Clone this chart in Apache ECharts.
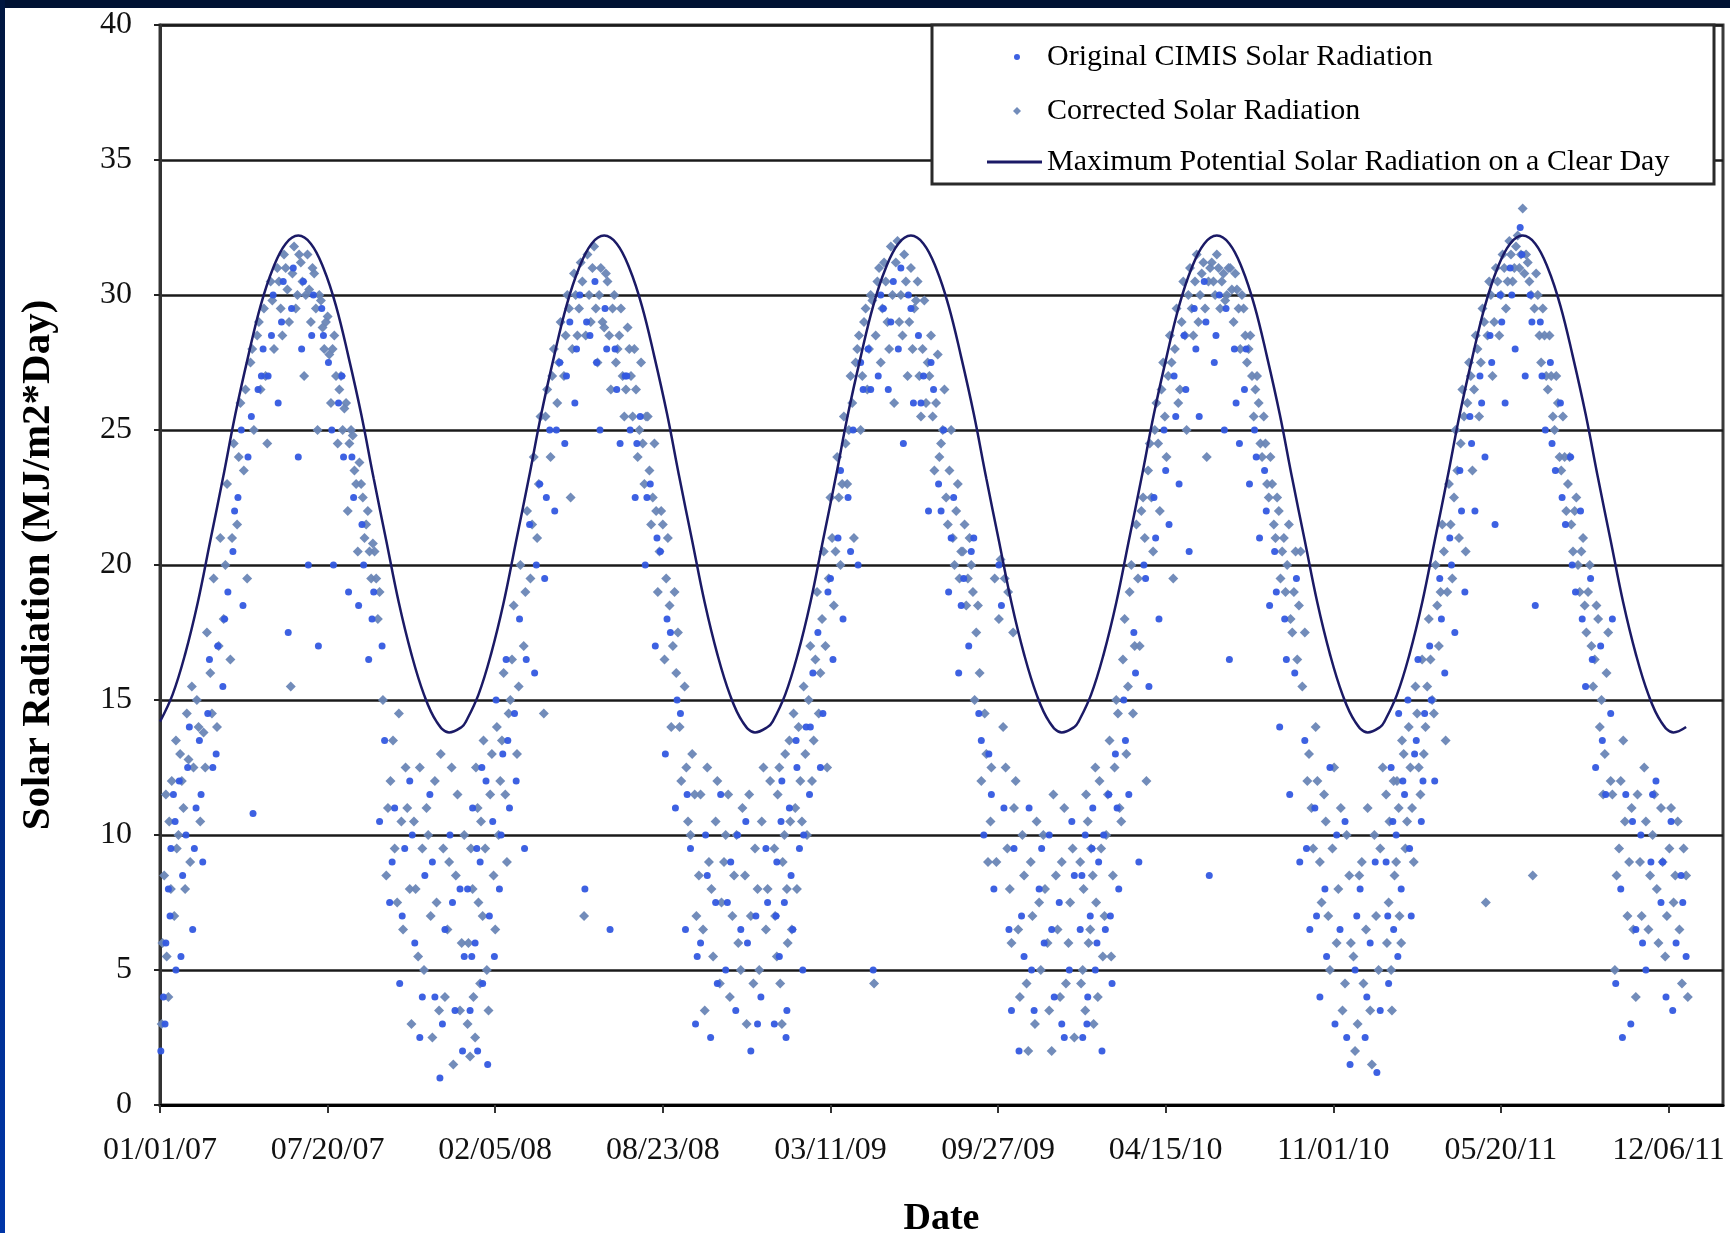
<!DOCTYPE html>
<html>
<head>
<meta charset="utf-8">
<script src="https://cdn.jsdelivr.net/npm/echarts@6/dist/echarts.min.js"></script>
<style>
  html, body { margin: 0; padding: 0; background: #ffffff; }
  #chart { position: absolute; left: 0; top: 0; width: 1730px; height: 1233px; background: #ffffff; }
  #bandTop { position: absolute; left: 0; top: 0; width: 1730px; height: 8px; background: #001233; z-index: 5; }
  #bandLeft { position: absolute; left: 0; top: 0; width: 5px; height: 1233px; background: linear-gradient(#00163f, #0036a8); z-index: 5; }
</style>
</head>
<body>
<div id="chart"></div>
<div id="bandTop"></div>
<div id="bandLeft"></div>
<script>
// x = days since 01/01/07
const xTickValues = [0, 200, 400, 600, 800, 1000, 1200, 1400, 1600, 1800];
const xTickLabels = ['01/01/07', '07/20/07', '02/05/08', '08/23/08', '03/11/09', '09/27/09', '04/15/10', '11/01/10', '05/20/11', '12/06/11'];
const yTickValues = [0, 5, 10, 15, 20, 25, 30, 35, 40];

const seriesNames = ['Original CIMIS Solar Radiation', 'Corrected Solar Radiation', 'Maximum Potential Solar Radiation on a Clear Day'];

const maxPotential = [
  [0,14.2],[15,15.2],[30,16.7],[45,18.6],[60,20.9],[75,23.2],[90,25.6],[105,27.7],[120,29.6],[135,31.0],[150,31.9],[165,32.2],[180,31.9],[195,31.0],[210,29.6],[225,27.7],[240,25.6],[255,23.2],[270,20.9],[285,18.6],[300,16.7],[315,15.2],[330,14.2],[345,13.8],[360,14.0],
  [365,14.2],[380,15.2],[395,16.7],[410,18.6],[425,20.9],[440,23.2],[455,25.6],[470,27.7],[485,29.6],[500,31.0],[515,31.9],[530,32.2],[545,31.9],[560,31.0],[575,29.6],[590,27.7],[605,25.6],[620,23.2],[635,20.9],[650,18.6],[665,16.7],[680,15.2],[695,14.2],[710,13.8],[725,14.0],
  [731,14.2],[746,15.2],[761,16.7],[776,18.6],[791,20.9],[806,23.2],[821,25.6],[836,27.7],[851,29.6],[866,31.0],[881,31.9],[896,32.2],[911,31.9],[926,31.0],[941,29.6],[956,27.7],[971,25.6],[986,23.2],[1001,20.9],[1016,18.6],[1031,16.7],[1046,15.2],[1061,14.2],[1076,13.8],[1091,14.0],
  [1096,14.2],[1111,15.2],[1126,16.7],[1141,18.6],[1156,20.9],[1171,23.2],[1186,25.6],[1201,27.7],[1216,29.6],[1231,31.0],[1246,31.9],[1261,32.2],[1276,31.9],[1291,31.0],[1306,29.6],[1321,27.7],[1336,25.6],[1351,23.2],[1366,20.9],[1381,18.6],[1396,16.7],[1411,15.2],[1426,14.2],[1441,13.8],[1456,14.0],
  [1461,14.2],[1476,15.2],[1491,16.7],[1506,18.6],[1521,20.9],[1536,23.2],[1551,25.6],[1566,27.7],[1581,29.6],[1596,31.0],[1611,31.9],[1626,32.2],[1641,31.9],[1656,31.0],[1671,29.6],[1686,27.7],[1701,25.6],[1716,23.2],[1731,20.9],[1746,18.6],[1761,16.7],[1776,15.2],[1791,14.2],[1806,13.8],[1821,14.0]
];

const correctedSolar = [
  [2,3.0],[5,8.5],[8,5.5],[11,10.5],[14,12.0],[17,7.0],[20,9.5],[24,13.0],[28,11.0],[32,14.5],[36,9.0],[40,12.5],[44,15.0],[48,10.5],[52,13.8],[56,17.5],[60,16.0],[64,19.5],[68,14.0],[72,21.0],[76,18.0],[80,23.0],[84,16.5],[88,24.5],[92,21.5],[96,26.0],[100,23.5],[104,19.5],[108,27.5],[112,25.0],[116,28.5],[120,26.5],[124,29.5],[128,24.5],[132,30.5],[136,28.0],[140,31.0],[144,29.5],[148,31.5],[152,30.2],[156,15.5],[160,31.8],[164,30.0],[168,31.2],[172,27.0],[176,31.5],[180,29.0],[184,30.8],[188,25.0],[192,29.8],[196,28.0],[200,29.2],[204,26.0],[208,28.5],[212,24.5],[216,27.0],[220,25.8],[224,22.0],[228,25.0],[232,23.5],[236,20.5],[240,23.0],[244,21.0],[248,22.0],[252,19.5],[256,20.5],[260,18.0],[266,15.0],[270,8.5],[275,12.0],[280,9.5],[285,14.5],[290,6.5],[295,11.0],[300,3.0],[305,8.0],[310,12.5],[315,5.0],[320,10.0],[325,2.5],[330,7.5],[335,13.0],[340,4.0],[345,9.0],[350,1.5],[355,11.5],[360,6.0],
  [3,6.0],[7,11.5],[10,4.0],[13,8.0],[19,13.5],[22,10.0],[26,12.0],[30,8.0],[34,12.8],[38,15.5],[46,14.0],[54,12.5],[62,14.5],[70,17.0],[78,20.0],[86,21.0],[94,24.0],[102,26.5],[110,28.0],[118,29.0],[126,27.0],[134,29.8],[142,30.5],[146,28.5],[150,31.0],[154,29.0],[158,30.8],[162,29.5],[166,31.5],[170,30.5],[174,30.0],[178,30.2],[182,31.0],[186,29.5],[190,30.0],[194,28.8],[198,29.0],[202,27.8],[206,28.0],[210,27.0],[214,26.5],[218,25.0],[222,26.0],[226,24.5],[230,24.8],[234,23.0],[238,23.8],[242,22.5],[246,21.5],[250,20.5],[254,20.8],[258,19.5],[262,19.0],[272,11.0],[278,13.5],[283,7.5],[288,10.5],[293,12.5],[298,8.0],[303,10.5],[308,5.5],[313,9.5],[318,11.0],[323,7.0],[328,12.0],[333,3.5],[338,9.5],[343,6.5],[348,12.5],[353,8.5],[358,3.5],[363,10.0],
  [368,6.0],[371,9.5],[374,4.0],[377,12.5],[380,7.5],[383,10.5],[386,13.5],[390,5.0],[394,11.5],[398,8.5],[402,14.0],[406,12.0],[410,16.0],[414,9.0],[418,15.0],[422,18.5],[426,13.0],[430,20.0],[434,17.0],[438,22.0],[442,19.5],[446,24.0],[450,21.0],[454,25.5],[458,14.5],[462,26.5],[466,24.0],[470,28.0],[474,26.0],[478,29.0],[482,27.0],[486,30.0],[490,22.5],[494,30.8],[498,28.5],[502,31.2],[506,7.0],[510,31.5],[514,29.0],[518,31.8],[522,27.5],[526,31.0],[530,28.8],[534,30.5],[538,26.5],[542,30.0],[546,28.0],[550,29.5],[554,25.5],[558,28.8],[562,27.0],[566,28.0],[570,24.0],[574,27.5],[578,23.0],[582,25.5],[586,21.5],[590,24.5],[594,19.0],[598,22.0],[602,16.5],[606,21.0],[610,14.0],[614,19.0],[618,17.5],[622,12.0],[626,15.5],[630,10.5],[635,13.0],[640,7.0],[645,11.5],[650,3.5],[655,9.0],[660,5.5],[665,12.0],[670,7.5],[675,10.0],[680,4.0],[685,8.5],[690,6.0],[695,11.0],[700,3.0],[705,7.0],[710,9.5],[715,5.0],[720,12.5],[725,8.0],
  [367,3.0],[370,1.8],[373,8.0],[376,2.5],[379,11.0],[382,4.5],[385,7.0],[388,9.5],[392,3.5],[396,13.0],[400,6.5],[404,10.0],[408,13.5],[412,11.5],[416,14.5],[420,16.5],[428,15.5],[436,19.0],[444,21.5],[452,23.0],[460,25.5],[468,27.0],[476,27.5],[484,28.5],[488,29.5],[492,28.0],[496,30.0],[500,29.5],[504,30.5],[508,28.5],[512,30.0],[516,31.0],[520,29.5],[524,30.0],[528,29.0],[532,30.8],[536,28.5],[540,29.5],[544,27.5],[548,28.5],[552,27.0],[556,26.5],[560,28.0],[564,25.5],[568,26.5],[572,25.0],[576,24.5],[580,25.5],[584,23.5],[588,22.5],[592,22.0],[596,20.5],[600,21.5],[604,19.5],[608,18.5],[612,17.0],[616,16.0],[620,14.0],[628,12.5],[633,10.0],[638,11.5],[643,8.5],[648,6.5],[653,12.5],[658,8.0],[663,10.5],[668,4.5],[673,9.0],[678,11.5],[683,7.0],[688,10.0],[693,5.0],[698,8.5],[703,11.5],[708,4.5],[713,8.0],[718,10.5],[723,6.5],[728,12.0],
  [734,7.0],[737,11.5],[740,4.5],[743,9.0],[746,13.0],[749,6.0],[752,10.5],[756,14.5],[760,8.0],[764,12.0],[768,15.5],[772,10.0],[776,17.0],[780,13.5],[784,19.0],[788,16.0],[792,20.5],[796,12.5],[800,22.5],[804,18.5],[808,24.0],[812,20.0],[816,25.5],[820,23.0],[824,27.0],[828,21.0],[832,28.0],[836,25.0],[840,29.0],[844,26.5],[848,30.0],[852,4.5],[856,30.5],[860,27.5],[864,31.2],[868,29.0],[872,31.8],[876,26.0],[880,32.0],[884,30.0],[888,31.5],[892,27.0],[896,31.0],[900,29.5],[904,30.5],[908,25.5],[912,29.8],[916,27.5],[920,28.5],[924,23.5],[928,27.8],[932,24.5],[936,26.5],[940,21.5],[944,25.0],[948,20.0],[952,23.0],[956,20.5],[960,21.5],[964,19.5],[968,20.0],[972,15.0],[976,18.5],[980,12.0],[984,14.5],[988,9.0],[992,12.5],[996,19.5],[1001,18.0],[1006,14.0],[1011,9.5],[1016,6.0],[1021,12.0],[1026,4.0],[1031,8.5],[1036,2.0],[1041,7.0],[1046,10.5],[1051,5.0],[1056,8.0],[1061,3.5],[1066,11.5],[1071,6.5],[1076,9.0],[1081,4.5],[1086,7.5],[1091,2.5],
  [733,9.5],[736,5.5],[739,12.5],[742,3.0],[745,10.0],[748,8.0],[751,13.5],[754,6.5],[758,11.0],[762,14.0],[766,10.5],[770,13.0],[774,15.0],[778,12.0],[782,16.5],[786,14.5],[790,18.0],[794,17.0],[798,19.5],[802,21.0],[806,20.5],[810,22.5],[814,23.0],[818,24.5],[822,25.0],[826,26.0],[830,27.5],[834,28.5],[838,27.0],[842,29.5],[846,28.0],[850,29.8],[854,28.5],[858,31.0],[862,29.5],[866,30.5],[870,28.0],[874,30.0],[878,31.2],[882,29.0],[886,28.5],[890,30.5],[894,29.0],[898,28.0],[902,29.8],[906,27.0],[910,28.0],[914,26.0],[918,27.0],[922,25.5],[926,26.0],[930,24.0],[934,25.0],[938,22.5],[942,23.5],[946,21.0],[950,22.0],[954,19.5],[958,20.5],[962,18.5],[966,21.0],[970,19.0],[974,17.5],[978,16.0],[986,13.0],[991,10.5],[998,9.0],[1003,20.2],[1008,19.5],[1012,19.0],[1018,17.5],[1009,12.5],[1014,8.0],[1019,11.0],[1024,6.5],[1029,10.0],[1034,4.5],[1039,9.0],[1044,3.0],[1049,7.5],[1054,10.0],[1059,6.0],[1064,2.0],[1069,8.5],[1074,4.0],[1079,11.0],[1084,6.0],[1089,9.5],
  [1099,4.5],[1102,8.0],[1105,11.5],[1108,6.0],[1111,9.5],[1114,3.0],[1117,7.5],[1121,12.0],[1125,5.5],[1129,10.0],[1133,13.5],[1137,8.5],[1141,15.0],[1145,11.0],[1149,16.5],[1153,13.0],[1157,19.0],[1161,14.5],[1165,21.5],[1169,17.0],[1173,22.5],[1177,12.0],[1181,24.5],[1185,20.5],[1189,26.0],[1193,22.0],[1197,27.5],[1201,24.0],[1205,28.5],[1209,19.5],[1213,29.5],[1217,26.5],[1221,30.5],[1225,25.0],[1229,31.0],[1233,28.5],[1237,31.5],[1241,30.0],[1245,31.2],[1249,24.0],[1253,31.0],[1257,30.5],[1261,31.5],[1265,29.5],[1269,30.8],[1273,30.0],[1277,31.0],[1281,29.0],[1285,30.2],[1289,28.0],[1293,29.5],[1297,27.5],[1301,28.5],[1305,25.5],[1309,27.0],[1313,24.5],[1317,25.5],[1321,23.0],[1325,24.0],[1329,21.5],[1333,22.5],[1337,19.5],[1341,21.0],[1345,20.0],[1349,18.0],[1353,19.0],[1357,16.5],[1361,20.5],[1366,17.5],[1371,13.0],[1376,9.5],[1381,12.0],[1386,7.5],[1391,10.5],[1396,5.0],[1401,12.5],[1406,8.0],[1411,3.5],[1416,10.0],[1421,6.0],[1426,2.0],[1431,8.5],[1436,4.5],[1441,11.0],[1446,1.5],[1451,7.0],[1456,9.5],
  [1098,9.0],[1101,5.0],[1104,3.5],[1107,10.5],[1110,6.5],[1113,8.5],[1116,12.5],[1119,4.0],[1123,9.5],[1127,7.0],[1131,11.5],[1135,5.5],[1139,12.5],[1143,14.5],[1147,10.5],[1151,18.0],[1155,15.5],[1159,20.0],[1163,17.0],[1167,19.5],[1171,22.0],[1175,21.0],[1179,23.5],[1183,22.5],[1187,25.0],[1191,24.5],[1195,26.5],[1199,25.5],[1203,27.0],[1207,27.5],[1211,28.0],[1215,26.0],[1219,29.0],[1223,28.5],[1227,30.0],[1231,29.5],[1235,30.5],[1239,29.0],[1243,30.8],[1247,29.5],[1251,30.5],[1255,31.2],[1259,30.0],[1263,31.0],[1267,30.5],[1271,29.8],[1275,31.0],[1279,30.2],[1283,30.8],[1287,29.5],[1291,30.0],[1295,28.5],[1299,28.0],[1303,27.0],[1307,26.5],[1311,26.0],[1315,24.0],[1319,24.5],[1323,22.5],[1327,23.0],[1331,21.0],[1335,22.0],[1339,20.5],[1343,19.0],[1347,21.5],[1351,17.5],[1355,20.5],[1359,18.5],[1363,15.5],[1369,12.0],[1374,11.0],[1379,14.0],[1384,9.0],[1389,11.5],[1394,7.0],[1399,9.5],[1404,6.0],[1409,11.0],[1414,4.5],[1419,8.5],[1424,5.5],[1429,3.0],[1434,9.0],[1439,6.5],[1444,3.5],[1449,10.0],[1454,5.0],[1459,12.5],
  [1464,6.0],[1467,10.5],[1470,3.5],[1473,8.5],[1476,12.0],[1479,7.0],[1482,13.5],[1486,9.5],[1490,14.0],[1494,11.0],[1498,15.5],[1502,12.5],[1506,16.5],[1510,14.0],[1514,18.0],[1518,15.0],[1522,20.0],[1526,17.0],[1530,21.5],[1534,13.5],[1538,23.0],[1542,19.5],[1546,25.0],[1550,21.0],[1554,26.5],[1558,20.5],[1562,27.5],[1566,23.5],[1570,28.5],[1574,25.5],[1578,29.5],[1582,7.5],[1586,30.5],[1590,27.0],[1594,31.0],[1598,28.5],[1602,31.5],[1606,29.5],[1610,32.0],[1614,30.5],[1618,31.8],[1622,31.0],[1626,33.2],[1630,31.5],[1634,30.5],[1638,8.5],[1642,30.8],[1646,28.5],[1650,29.5],[1654,27.0],[1658,28.5],[1662,25.5],[1666,27.0],[1670,24.0],[1674,25.5],[1678,22.0],[1682,24.0],[1686,20.5],[1690,22.5],[1694,19.0],[1698,21.0],[1702,17.5],[1706,20.0],[1710,15.5],[1714,18.5],[1718,14.0],[1722,11.5],[1726,16.0],[1731,12.0],[1736,5.0],[1741,9.5],[1746,13.5],[1751,7.0],[1756,11.0],[1761,4.0],[1766,9.0],[1771,12.5],[1776,6.5],[1781,10.0],[1786,8.0],[1791,11.0],[1796,5.5],[1801,9.5],[1806,7.5],[1811,10.5],[1816,4.5],[1821,8.5],
  [1463,11.5],[1466,7.5],[1469,5.0],[1472,12.0],[1475,9.0],[1478,11.0],[1481,6.0],[1484,13.0],[1488,10.5],[1492,12.5],[1496,9.0],[1500,14.5],[1504,11.5],[1508,13.0],[1512,15.5],[1516,16.5],[1520,14.5],[1524,18.5],[1528,19.0],[1532,20.5],[1536,19.0],[1540,21.5],[1544,22.5],[1548,23.5],[1552,24.5],[1556,25.5],[1560,26.0],[1564,27.0],[1568,26.5],[1572,28.0],[1576,27.5],[1580,29.0],[1584,28.5],[1588,30.0],[1592,29.0],[1596,30.5],[1600,30.0],[1604,31.0],[1608,30.5],[1612,31.5],[1616,31.0],[1620,32.2],[1624,31.5],[1628,30.8],[1632,31.2],[1636,30.0],[1640,29.5],[1644,30.0],[1648,27.5],[1652,28.5],[1656,26.5],[1660,27.0],[1664,25.0],[1668,26.0],[1672,23.5],[1676,24.0],[1680,23.0],[1684,21.5],[1688,22.0],[1692,20.0],[1696,20.5],[1700,18.5],[1704,19.0],[1708,17.0],[1712,16.5],[1716,18.0],[1720,15.0],[1724,13.0],[1728,17.5],[1733,11.5],[1738,8.5],[1743,12.0],[1748,10.5],[1753,9.0],[1758,6.5],[1763,11.5],[1768,7.0],[1773,10.5],[1778,8.5],[1783,11.5],[1788,6.0],[1793,9.0],[1798,7.0],[1803,11.0],[1808,8.5],[1813,6.5],[1818,9.5],[1823,4.0]
];

const originalSolar = [
  [1,2.0],[4,4.0],[7,6.0],[10,8.0],[13,9.5],[16,11.5],[19,5.0],[23,12.0],[27,8.5],[31,10.0],[35,14.0],[39,6.5],[43,11.0],[47,13.5],[51,9.0],[57,14.5],[63,12.5],[69,17.0],[75,15.5],[81,19.0],[87,20.5],[93,22.5],[99,18.5],[105,24.0],[111,10.8],[117,26.5],[123,28.0],[129,27.0],[135,30.0],[141,26.0],[147,30.5],[153,17.5],[159,31.0],[165,24.0],[171,30.5],[177,20.0],[183,30.0],[189,17.0],[195,28.5],[201,27.5],[207,20.0],[213,26.0],[219,24.0],[225,19.0],[231,22.5],[237,18.5],[243,20.0],[249,16.5],[255,19.0],[262,10.5],[268,13.5],[274,7.5],[280,11.0],[286,4.5],[292,9.5],[298,12.0],[304,6.0],[310,2.5],[316,8.5],[322,11.5],[328,4.0],[334,1.0],[340,6.5],[346,10.0],[352,3.5],[358,8.0],[363,5.5],
  [6,3.0],[12,7.0],[18,10.5],[25,5.5],[33,12.5],[41,9.5],[49,11.5],[59,16.5],[67,13.0],[77,18.0],[89,22.0],[97,25.0],[109,25.5],[121,27.0],[133,28.5],[145,29.0],[157,29.5],[169,28.0],[181,28.5],[193,29.5],[205,25.0],[217,27.0],[229,24.0],[241,21.5],[253,18.0],[265,17.0],[277,9.0],[289,7.0],[301,10.0],[313,4.0],[325,9.0],[337,3.0],[349,7.5],[361,2.0],
  [367,8.0],[370,3.5],[373,11.0],[376,6.0],[379,2.0],[382,9.0],[385,4.5],[389,12.0],[393,7.0],[397,10.5],[401,15.0],[405,8.0],[409,13.0],[413,16.5],[417,11.0],[423,14.5],[429,18.0],[435,9.5],[441,21.5],[447,16.0],[453,23.0],[459,19.5],[465,25.0],[471,22.0],[477,27.5],[483,24.5],[489,29.0],[495,26.0],[501,30.0],[507,8.0],[513,28.5],[519,30.5],[525,25.0],[531,29.5],[537,6.5],[543,28.0],[549,24.5],[555,27.0],[561,25.0],[567,22.5],[573,25.5],[579,20.0],[585,23.0],[591,17.0],[597,20.5],[603,13.0],[609,17.5],[615,11.0],[621,14.5],[627,6.5],[633,9.5],[639,3.0],[645,6.0],[651,10.0],[657,2.5],[663,7.5],[669,11.5],[675,5.0],[681,9.0],[687,3.5],[693,6.5],[699,10.5],[705,2.0],[711,7.0],[717,4.0],[723,9.5],
  [372,5.5],[378,9.5],[384,12.5],[391,1.5],[399,5.5],[407,10.0],[415,13.5],[425,12.0],[437,16.5],[449,20.0],[461,22.5],[473,25.0],[485,27.0],[497,28.0],[509,29.0],[521,27.5],[533,28.0],[545,26.5],[557,27.0],[569,24.5],[581,22.5],[593,21.0],[605,18.0],[617,15.0],[629,11.5],[641,5.5],[653,8.5],[665,4.5],[677,7.5],[689,10.0],[701,6.0],[713,3.0],[725,7.5],
  [733,3.0],[736,9.0],[739,5.5],[742,12.0],[745,7.5],[748,3.5],[751,11.0],[755,6.5],[759,13.5],[763,9.5],[767,5.0],[771,14.0],[775,11.5],[779,16.0],[785,17.5],[791,14.5],[797,19.0],[803,16.5],[809,21.0],[815,18.0],[821,22.5],[827,25.0],[833,20.0],[839,26.5],[845,28.0],[851,5.0],[857,27.0],[863,29.5],[869,26.5],[875,30.5],[881,28.0],[887,24.5],[893,30.0],[899,26.0],[905,28.5],[911,27.0],[917,22.0],[923,26.5],[929,23.0],[935,25.0],[941,19.0],[947,22.5],[953,16.0],[959,19.5],[965,17.0],[971,21.0],[977,14.5],[983,10.0],[989,13.0],[995,8.0],[1001,20.0],[1007,11.0],[1013,6.5],[1019,9.5],[1025,2.0],[1031,5.5],[1037,11.0],[1043,3.5],[1049,8.0],[1055,6.0],[1061,10.0],[1067,4.0],[1073,7.5],[1079,2.5],[1085,5.0],[1091,8.5],
  [735,7.0],[741,10.5],[747,2.5],[753,8.5],[760,12.5],[768,10.0],[776,14.0],[788,12.5],[800,19.5],[812,23.5],[824,20.5],[836,27.5],[848,26.5],[860,30.0],[872,29.0],[884,31.0],[896,29.5],[908,26.0],[920,27.5],[932,22.0],[944,21.0],[956,18.5],[968,20.5],[980,13.5],[992,11.5],[1004,18.5],[1016,3.5],[1028,7.0],[1040,5.0],[1052,9.5],[1064,6.5],[1076,3.0],[1088,10.5],
  [1098,6.5],[1101,2.5],[1104,10.0],[1107,4.0],[1110,7.0],[1113,11.0],[1116,5.0],[1120,9.0],[1124,2.0],[1128,6.5],[1132,11.5],[1136,4.5],[1140,13.0],[1144,8.0],[1150,15.0],[1156,11.5],[1162,17.5],[1168,9.0],[1174,20.0],[1180,15.5],[1186,22.5],[1192,18.0],[1198,25.0],[1204,21.5],[1210,27.0],[1216,23.0],[1222,28.5],[1228,20.5],[1234,29.5],[1240,25.5],[1246,30.5],[1252,8.5],[1258,27.5],[1264,30.0],[1270,25.0],[1276,16.5],[1282,28.0],[1288,24.5],[1294,26.5],[1300,23.0],[1306,25.0],[1312,21.0],[1318,23.5],[1324,18.5],[1330,20.5],[1336,14.0],[1342,18.0],[1348,11.5],[1354,16.0],[1360,9.0],[1366,13.5],[1372,6.5],[1378,11.0],[1384,4.0],[1390,8.0],[1396,12.5],[1402,3.0],[1408,6.5],[1414,10.5],[1420,1.5],[1426,5.0],[1432,8.0],[1438,2.5],[1444,6.0],[1450,9.0],[1456,3.5],
  [1100,8.5],[1106,3.0],[1112,9.5],[1118,6.0],[1126,10.0],[1134,7.0],[1142,11.0],[1152,13.5],[1164,16.0],[1176,19.5],[1188,21.0],[1200,23.5],[1212,25.5],[1224,26.5],[1236,28.0],[1248,29.0],[1260,28.5],[1272,29.5],[1284,26.0],[1296,28.0],[1308,24.0],[1320,22.0],[1332,19.0],[1344,16.5],[1356,19.5],[1368,9.5],[1380,7.0],[1392,5.5],[1404,10.0],[1416,2.5],[1428,7.0],[1440,4.0],[1452,1.2],
  [1463,9.0],[1466,4.5],[1469,12.5],[1472,6.5],[1475,10.0],[1478,14.5],[1481,8.0],[1485,11.5],[1489,15.0],[1493,7.0],[1497,13.0],[1501,16.5],[1505,10.5],[1509,14.5],[1515,17.0],[1521,12.0],[1527,19.5],[1533,16.0],[1539,21.0],[1545,17.5],[1551,23.5],[1557,19.0],[1563,25.5],[1569,22.0],[1575,27.0],[1581,24.0],[1587,28.5],[1593,21.5],[1599,30.0],[1605,26.0],[1611,31.0],[1617,28.0],[1623,32.5],[1629,27.0],[1635,30.0],[1641,18.5],[1647,29.0],[1653,25.0],[1659,27.5],[1665,23.5],[1671,26.0],[1677,21.5],[1683,24.0],[1689,19.0],[1695,22.0],[1701,15.5],[1707,19.5],[1713,12.5],[1719,17.0],[1725,11.5],[1731,14.5],[1737,4.5],[1743,8.0],[1749,11.5],[1755,3.0],[1761,6.5],[1767,10.0],[1773,5.0],[1779,9.0],[1785,12.0],[1791,7.5],[1797,4.0],[1803,10.5],[1809,6.0],[1815,8.5],[1821,5.5],
  [1465,7.0],[1471,10.5],[1477,5.5],[1483,12.0],[1491,9.5],[1499,13.5],[1507,12.0],[1517,15.0],[1529,18.0],[1541,20.0],[1553,22.0],[1565,24.5],[1577,26.0],[1589,27.5],[1601,29.0],[1613,30.0],[1625,31.5],[1637,29.0],[1649,27.0],[1661,24.5],[1673,22.5],[1685,20.0],[1697,18.0],[1709,16.5],[1721,13.5],[1733,18.0],[1745,2.5],[1757,10.5],[1769,6.0],[1781,11.5],[1793,9.0],[1805,3.5],[1817,7.5]
];

const chart = echarts.init(document.getElementById('chart'), null, { renderer: 'canvas' });
const serif = '"Liberation Serif", "Times New Roman", serif';

const option = {
  animation: false,
  backgroundColor: '#ffffff',
  grid: { left: 160, right: 7, top: 25, bottom: 128, outerBoundsMode: 'none', containLabel: false,
    show: true, borderColor: '#3a3a3a', borderWidth: 3, backgroundColor: '#ffffff' },
  xAxis: {
    type: 'value', min: 0, max: 1865, interval: 200,
    name: 'Date', nameLocation: 'middle', nameGap: 95,
    nameTextStyle: { fontFamily: serif, fontWeight: 'bold', fontSize: 38, color: '#000' },
    axisLine: { show: true, onZero: false, lineStyle: { color: '#000', width: 3 } },
    axisTick: { show: true, length: 8, customValues: xTickValues, lineStyle: { color: '#333', width: 2 } },
    axisLabel: { customValues: xTickValues, margin: 30, fontFamily: serif, fontSize: 32, color: '#111',
      formatter: function (v) { const i = xTickValues.indexOf(v); return i >= 0 ? xTickLabels[i] : ''; } },
    splitLine: { show: false }
  },
  yAxis: {
    type: 'value', min: 0, max: 40, interval: 5,
    name: 'Solar Radiation (MJ/m2*Day)', nameLocation: 'middle', nameGap: 101, nameRotate: 90,
    nameTextStyle: { fontFamily: serif, fontWeight: 'bold', fontSize: 41, color: '#000' },
    axisLine: { show: true, lineStyle: { color: '#333', width: 3 } },
    axisTick: { show: true, length: 6, lineStyle: { color: '#222', width: 2 } },
    axisLabel: { margin: 28, fontFamily: serif, fontSize: 32, color: '#111',
      formatter: function (v) { return yTickValues.indexOf(v) >= 0 ? String(v) : ''; } },
    splitLine: { show: true, lineStyle: { color: '#1a1a1a', width: 2.5 } }
  },
  legend: [
    {
      data: [
        { name: seriesNames[0], icon: 'path://M0,4 L0.01,4 M50,4 L49.99,4 M25,1 A3,3 0 1 1 24.99,1 Z' },
        { name: seriesNames[1], icon: 'path://M0,4 L0.01,4 M50,4 L49.99,4 M25,0 L29,4 L25,8 L21,4 Z' }
      ],
      orient: 'vertical', left: 987, top: 37,
      itemWidth: 50, itemHeight: 8, itemGap: 24, z: 20,
      textStyle: { fontFamily: serif, fontSize: 30, color: '#000', lineHeight: 30 }
    },
    {
      data: [{ name: seriesNames[2], icon: 'path://M0,0 L55,0 L55,3 L0,3 Z' }], orient: 'vertical', left: 982, top: 142,
      itemWidth: 55, itemHeight: 3, z: 20,
      textStyle: { fontFamily: serif, fontSize: 30, color: '#000', lineHeight: 30 }
    }
  ],
  graphic: [
    { type: 'rect', z: 15, shape: { x: 932, y: 25, width: 782, height: 159 },
      style: { fill: '#ffffff', stroke: '#2a2a2a', lineWidth: 3 } }
  ],
  series: [
    {
      name: seriesNames[1], type: 'scatter', data: correctedSolar, z: 3,
      symbol: 'diamond', symbolSize: 10,
      itemStyle: { color: '#6a86b6', opacity: 0.95 }
    },
    {
      name: seriesNames[0], type: 'scatter', data: originalSolar, z: 4,
      symbol: 'circle', symbolSize: 7,
      itemStyle: { color: '#3358e0', opacity: 0.95 }
    },
    {
      name: seriesNames[2], type: 'line', data: maxPotential, z: 5,
      symbol: 'none', smooth: 0.4,
      lineStyle: { color: '#1b1a66', width: 2.5 },
      itemStyle: { color: '#1b1a66' }
    }
  ]
};
chart.setOption(option);
</script>
</body>
</html>
